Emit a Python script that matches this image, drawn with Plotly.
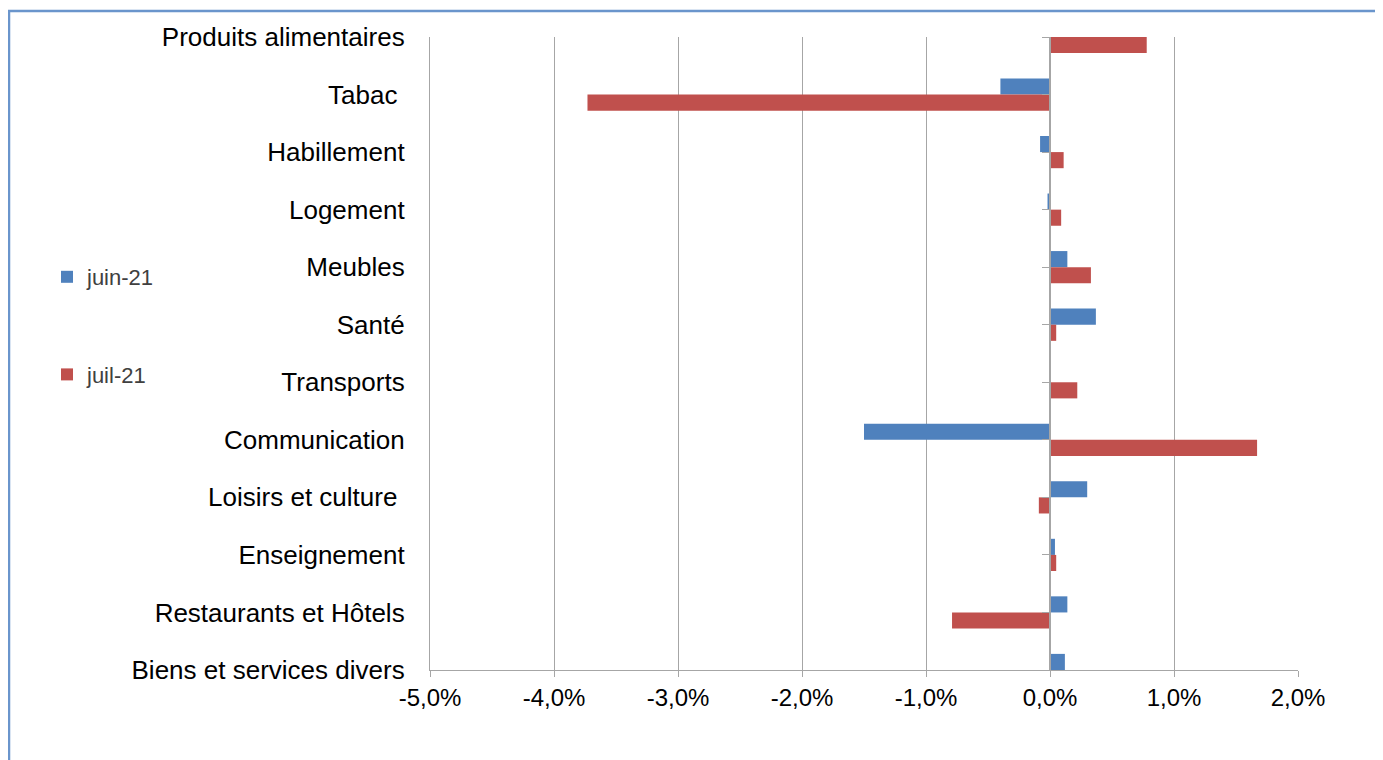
import plotly.graph_objects as go

categories = ["Produits alimentaires", "Tabac\u00a0", "Habillement", "Logement", "Meubles", "Santé",
              "Transports", "Communication", "Loisirs et culture\u00a0", "Enseignement",
              "Restaurants et Hôtels", "Biens et services divers"]
juin_21 = [0.00, -0.40, -0.08, -0.02, 0.14, 0.37, 0.00, -1.50, 0.30, 0.04, 0.14, 0.12]
juil_21 = [0.78, -3.73, 0.11, 0.09, 0.33, 0.05, 0.22, 1.67, -0.09, 0.05, -0.79, 0.43]
x_ticks = [-5, -4, -3, -2, -1, 0, 1, 2]
x_ticktext = ["-5,0%", "-4,0%", "-3,0%", "-2,0%", "-1,0%", "0,0%", "1,0%", "2,0%"]

BLUE = "#4f81bd"
RED = "#c0504d"
GRID = "#a6a6a6"
FONT = "Liberation Sans, Arial, sans-serif"

OFF = 8  # page body margin
W, H = 1383, 760
# target plot area in screen pixels: x 430..1298, y 37..670
L = 430 - OFF
T = 37 - OFF
pw = 1298 - 430
ph = 670 - 37
R = W - L - pw
B = H - T - ph

idx = list(range(len(categories)))
xmin, xmax = x_ticks[0], x_ticks[-1]

fig = go.Figure()
fig.add_trace(go.Bar(y=idx, x=juin_21, orientation="h", name="juin-21",
                     marker=dict(color=BLUE, line=dict(width=0)), legendgroup="a"))
fig.add_trace(go.Bar(y=idx, x=juil_21, orientation="h", name="juil-21",
                     marker=dict(color=RED, line=dict(width=0)), legendgroup="b"))
# invisible helper so the zero axis (y2) is drawn
fig.add_trace(go.Scatter(x=[0], y=[0], yaxis="y2", mode="markers",
                         marker=dict(opacity=0), showlegend=False, hoverinfo="skip"))

def px_x(p):
    return (p - OFF - L) / pw

def px_y(p):
    return (H - B - (p - OFF)) / ph

fig.update_layout(
    width=W, height=H,
    margin=dict(l=L, r=R, t=T, b=B),
    paper_bgcolor="white", plot_bgcolor="white",
    barmode="group", bargap=0.44, bargroupgap=0,
    font=dict(family=FONT, size=24, color="black"),
    xaxis=dict(range=[xmin, xmax], tickvals=x_ticks, ticktext=x_ticktext,
               showgrid=True, gridcolor=GRID, gridwidth=1.3,
               zeroline=False, showline=True, linecolor=GRID, linewidth=1.3,
               ticks="outside", ticklen=6, tickcolor=GRID, tickwidth=1.3,
               tickfont=dict(size=24, color="black"), fixedrange=True),
    yaxis=dict(range=[len(categories) - 1, 0], tickvals=idx, ticktext=categories,
               showgrid=False, zeroline=False, showline=True, linecolor=GRID, linewidth=1.3,
               ticks="", ticklabelstandoff=19,
               tickfont=dict(size=26, color="black"), fixedrange=True),
    yaxis2=dict(overlaying="y", anchor="free", side="left",
                position=(0 - xmin) / (xmax - xmin),
                range=[len(categories) - 1, 0], tickvals=idx, showticklabels=False,
                showgrid=False, zeroline=False, showline=True, linecolor=GRID, linewidth=1.5,
                ticks="outside", ticklen=7, tickcolor=GRID, tickwidth=1.3, fixedrange=True),
    legend=dict(x=px_x(47), y=px_y(256), xanchor="left", yanchor="top",
                tracegroupgap=66, font=dict(size=22, color="#404040"),
                itemwidth=30, bgcolor="rgba(0,0,0,0)"),
    showlegend=True,
    shapes=[dict(type="rect", xref="paper", yref="paper",
                 x0=px_x(9), x1=px_x(1381), y0=px_y(790), y1=px_y(11),
                 line=dict(color="#6a95cc", width=2.5), layer="below")],
)

fig.write_html("out.html")
